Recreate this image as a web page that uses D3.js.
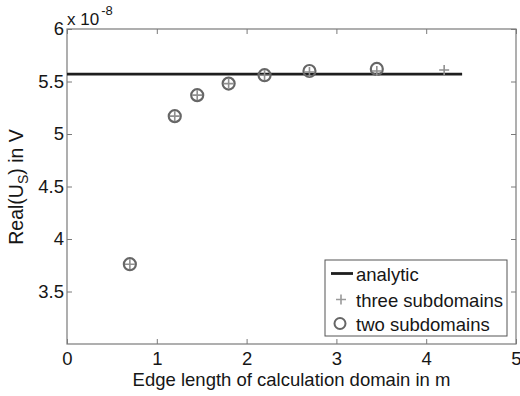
<!DOCTYPE html>
<html>
<head>
<meta charset="utf-8">
<script src="https://cdn.jsdelivr.net/npm/d3@7"></script>
<style>
  html, body { margin: 0; padding: 0; background: #fff; }
  svg { display: block; font-family: "Liberation Sans", Arial, sans-serif; }
</style>
</head>
<body>
<svg id="chart" width="520" height="396"></svg>
<script>
// ---- data ----
const analyticX = [0, 4.4];
const analyticY = [5.57, 5.57];
const threeX = [0.7, 1.2, 1.45, 1.8, 2.2, 2.7, 3.45, 4.2];
const threeY = [3.76, 5.17, 5.37, 5.48, 5.56, 5.59, 5.60, 5.61];
const twoX = [0.7, 1.2, 1.45, 1.8, 2.2, 2.7, 3.45];
const twoY = [3.76, 5.17, 5.37, 5.48, 5.56, 5.60, 5.62];
const xTicks = [0, 1, 2, 3, 4, 5];
const yTicks = [3.5, 4, 4.5, 5, 5.5, 6];
const legendLabels = ["analytic", "three subdomains", "two subdomains"];

// ---- layout ----
const svg = d3.select("#chart");
const L = 67, R = 516, T = 29, B = 344;
const x = d3.scaleLinear().domain([0, 5]).range([L, R]);
const y = d3.scaleLinear().domain([3, 6]).range([B, T]);
const axisColor = "#7a7a7a";
const fs = 18.5;
const txt = "#161616";

// axes
function styleAxis(g, labels) {
  g.select(".domain").remove();
  g.selectAll(".tick line").attr("stroke", axisColor).attr("stroke-width", 1);
  g.selectAll(".tick text").attr("fill", txt).style("font-size", fs + "px")
    .style("font-family", '"Liberation Sans", Arial, sans-serif');
  if (!labels) g.selectAll(".tick text").remove();
}
svg.append("g").attr("transform", `translate(0,${B})`)
  .call(d3.axisBottom(x).tickValues(xTicks).tickSize(-5).tickPadding(8).tickFormat(d3.format("d")))
  .call(g => styleAxis(g, true));
svg.append("g").attr("transform", `translate(0,${T})`)
  .call(d3.axisTop(x).tickValues(xTicks).tickSize(-5))
  .call(g => styleAxis(g, false));
svg.append("g").attr("transform", `translate(${L},0)`)
  .call(d3.axisLeft(y).tickValues(yTicks).tickSize(-5).tickPadding(3).tickFormat(d => String(d)))
  .call(g => styleAxis(g, true));
svg.append("g").attr("transform", `translate(${R},0)`)
  .call(d3.axisRight(y).tickValues(yTicks).tickSize(-5))
  .call(g => styleAxis(g, false));

// box
svg.append("rect").attr("x", L).attr("y", T).attr("width", R - L).attr("height", B - T)
  .attr("fill", "none").attr("stroke", axisColor).attr("stroke-width", 1.2);

// analytic line
const line = d3.line().x(d => x(d[0])).y(d => y(d[1]));
svg.append("path").datum(d3.zip(analyticX, analyticY)).attr("d", line)
  .attr("fill", "none").attr("stroke", "#1e1e1e").attr("stroke-width", 2.8);

// two subdomains circles
svg.append("g").selectAll("circle").data(d3.zip(twoX, twoY)).join("circle")
  .attr("cx", d => x(d[0])).attr("cy", d => y(d[1])).attr("r", 6)
  .attr("fill", "none").attr("stroke", "#666").attr("stroke-width", 2.2);

// three subdomains plus
const ps = 5;
svg.append("g").selectAll("path").data(d3.zip(threeX, threeY)).join("path")
  .attr("d", d => `M${x(d[0]) - ps},${y(d[1])}H${x(d[0]) + ps}M${x(d[0])},${y(d[1]) - ps}V${y(d[1]) + ps}`)
  .attr("stroke", "#8f8f8f").attr("stroke-width", 1.6).attr("fill", "none");

// exponent label
const ex = svg.append("text").attr("x", 67).attr("y", 25).attr("fill", txt)
  .style("font-size", "17px");
ex.append("tspan").text("x 10");
ex.append("tspan").attr("dx", 2).attr("dy", -10).style("font-size", "13px").text("-8");

// axis labels
svg.append("text").attr("x", (L + R) / 2).attr("y", 386).attr("text-anchor", "middle")
  .attr("fill", txt).style("font-size", fs + "px")
  .text("Edge length of calculation domain in m");
const yl = svg.append("text").attr("transform", "translate(23,187) rotate(-90)")
  .attr("text-anchor", "middle").attr("fill", txt).style("font-size", "19.5px");
yl.append("tspan").text("Real(U");
yl.append("tspan").attr("dy", 5).style("font-size", "14px").text("S");
yl.append("tspan").attr("dy", -5).text(") in V");

// legend
const lg = svg.append("g");
lg.append("rect").attr("x", 325).attr("y", 260).attr("width", 182).attr("height", 76)
  .attr("fill", "#fff").attr("stroke", "#555").attr("stroke-width", 1);
const rows = [273.5, 299.5, 323.5];
lg.append("line").attr("x1", 331).attr("x2", 353).attr("y1", rows[0]).attr("y2", rows[0])
  .attr("stroke", "#1e1e1e").attr("stroke-width", 2.8);
lg.append("path").attr("d", `M${341 - ps},${rows[1]}H${341 + ps}M341,${rows[1] - ps}V${rows[1] + ps}`)
  .attr("stroke", "#9a9a9a").attr("stroke-width", 1.6);
lg.append("circle").attr("cx", 340).attr("cy", rows[2]).attr("r", 5.5)
  .attr("fill", "none").attr("stroke", "#666").attr("stroke-width", 2);
lg.selectAll("text.lt").data(legendLabels).join("text").attr("class", "lt")
  .attr("x", 356).attr("y", (d, i) => rows[i] + 7).attr("fill", txt)
  .style("font-size", fs + "px").text(d => d);
</script>
</body>
</html>
